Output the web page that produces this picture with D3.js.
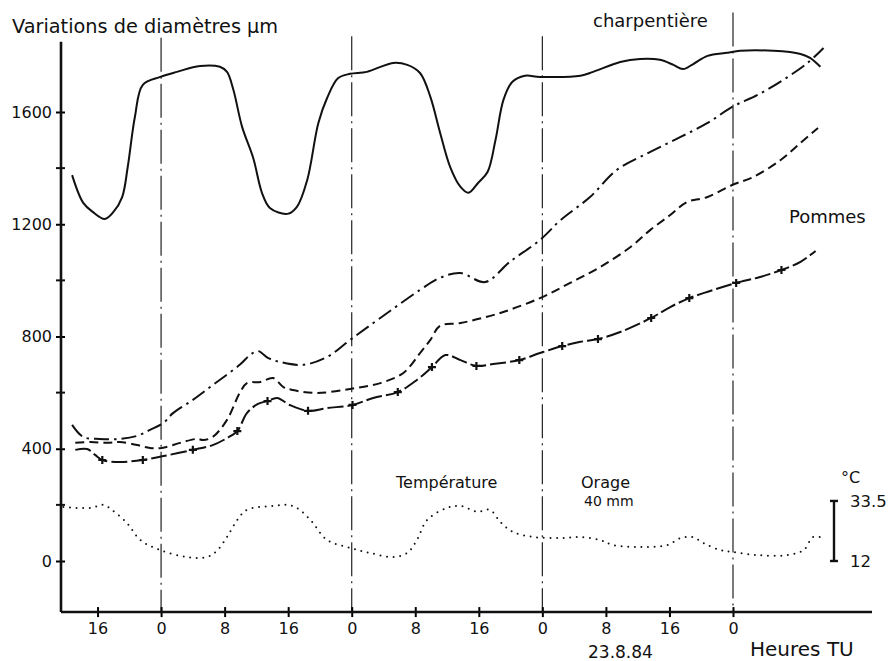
<!DOCTYPE html>
<html>
<head>
<meta charset="utf-8">
<script src="https://cdn.jsdelivr.net/npm/d3@7"></script>
<style>
  body { margin: 0; background: #fff; }
  svg { display: block; font-family: "DejaVu Sans", sans-serif; }
  .curve { fill: none; stroke: #111; stroke-width: 2; stroke-linejoin: round; }
</style>
</head>
<body>
<script>
"use strict";

// hours counted from the first midnight, diameter variations in µm
var charpentiere = [[-11.2,1375],[-9.8,1276],[-8.6,1244],[-7.1,1219],[-6.0,1244],[-4.9,1297],[-4.2,1404],
  [-3.3,1582],[-2.3,1697],[-0.1,1725],[2.0,1743],[4.9,1764],[7.4,1761],[8.3,1743],[9.1,1679],[10.2,1547],
  [11.6,1436],[12.7,1312],[13.7,1258],[15.9,1237],[17.1,1262],[18.4,1358],[19.8,1561],[20.9,1650],[22.3,1721],
  [23.8,1736],[25.9,1743],[29.2,1775],[31.0,1768],[32.6,1739],[33.9,1654],[35.1,1529],[36.4,1404],[37.7,1333],
  [38.7,1312],[39.9,1347],[41.1,1386],[42.1,1500],[43.1,1643],[44.2,1707],[45.8,1729],[47.7,1725],[52.8,1729],
  [54.4,1743],[57.8,1778],[60.3,1789],[62.8,1786],[64.5,1768],[65.7,1753],[67.0,1771],[68.8,1800],[71.3,1811],
  [72.9,1818],[77.1,1818],[80.5,1807],[81.7,1793],[83.0,1761]];

var pommesA = [[-11.2,485],[-9.8,442],[-7.7,435],[-5.2,435],[-3.0,446],[-1.4,467],[0.3,492],[1.5,527],
  [4.0,574],[6.5,627],[9.9,699],[11.2,734],[12.2,748],[13.5,723],[15.0,709],[17.9,699],[20.9,727],[23.8,788],
  [27.6,866],[32.6,966],[35.1,1009],[37.7,1026],[40.8,994],[43.9,1066],[47.7,1144],[50.3,1215],[54.0,1297],
  [57.4,1394],[61.6,1458],[65.4,1511],[68.8,1561],[71.9,1618],[75.1,1661],[78.3,1714],[81.4,1775],[83.4,1828]];

var pommesB = [[-10.8,421],[-8.9,424],[-6.8,421],[-5.2,424],[-3.0,413],[-1.4,403],[0.1,403],[2.4,421],
  [4.5,435],[5.3,431],[6.5,442],[8.3,503],[9.9,599],[10.8,634],[12.5,638],[14.1,652],[15.4,620],[16.6,609],
  [19.6,599],[23.8,613],[27.6,634],[30.5,670],[32.6,741],[33.9,788],[35.1,838],[37.7,848],[42.7,884],
  [47.7,937],[51.5,991],[55.3,1048],[59.1,1119],[61.6,1180],[64.1,1233],[66.2,1279],[68.8,1297],[71.9,1340],
  [74.6,1369],[78.0,1429],[80.5,1490],[82.7,1543]];

// third value = 1 where a cross is drawn
var pommesC = [[-10.8,396,0],[-9.3,399,0],[-8.3,378,0],[-7.4,360,1],[-5.2,353,0],[-2.3,360,1],[0.3,374,0],
  [4.0,396,1],[6.5,413,0],[8.3,438,0],[9.6,463,1],[10.8,527,0],[12.2,560,0],[13.4,570,1],[14.6,581,0],
  [16.2,556,0],[18.5,535,1],[20.9,545,0],[24.1,556,1],[26.7,581,0],[29.8,602,1],[32.2,645,0],[34.1,691,1],
  [35.8,734,0],[37.7,716,0],[39.7,695,1],[41.8,702,0],[45.1,716,1],[47.7,741,0],[50.5,766,1],[52.8,781,0],
  [55.0,791,1],[57.8,816,0],[61.7,866,1],[64.1,905,0],[66.5,937,1],[69.1,962,0],[72.4,991,1],[75.4,1012,0],
  [78.1,1037,1],[80.5,1066,0],[82.4,1105,0]];

// air temperature, °C
var temperature = [[-12.3,31.3],[-8.9,31.0],[-7.3,32.1],[-6.2,30.3],[-4.3,25.6],[-2.6,19.5],[-0.1,15.9],
  [3.3,13.4],[5.8,13.4],[7.1,15.9],[8.3,20.6],[9.6,26.7],[10.8,30.3],[14.1,31.7],[15.9,32.1],[17.1,31.0],
  [18.8,26.7],[20.9,19.5],[23.8,16.7],[26.3,14.9],[29.2,13.4],[31.0,14.9],[32.2,19.5],[33.5,26.7],[36.0,31.0],
  [37.7,31.7],[39.8,29.6],[41.4,30.3],[42.7,26.0],[44.3,22.4],[46.9,20.6],[50.3,20.2],[52.8,20.6],[55.3,19.5],
  [56.9,17.7],[60.3,17.0],[63.7,17.7],[65.4,20.2],[66.9,20.6],[68.3,18.4],[70.4,15.9],[72.0,15.2],[75.1,14.1],
  [78.8,14.1],[80.9,15.9],[82.1,20.6],[83.4,20.2]];

var yTicks = [0, 400, 800, 1200, 1600];
var yMinorTicks = [200, 600, 1000, 1400];
var xTicks = [-8, 0, 8, 16, 24, 32, 40, 48, 56, 64, 72];
var midnights = [0, 24, 48, 72];
var midnightTops = [1865, 1870, 1870, 1955];
var tempRange = [12, 33.5];

var width = 889, height = 661;

var x = d3.scaleLinear().domain([-12.6, 89.5]).range([61, 872]);
var y = d3.scaleLinear().domain([0, 1600]).range([561, 112]);
var yTemp = d3.scaleLinear().domain(tempRange).range([y(0), y(214)]);
var yBottom = -182, yTop = 1850;

var svg = d3.select("body").append("svg")
    .attr("width", width)
    .attr("height", height);

// midnight dash-dot lines
svg.append("g").selectAll("line")
    .data(midnights)
    .enter().append("line")
    .attr("x1", d => x(d)).attr("x2", d => x(d))
    .attr("y1", (d, i) => y(midnightTops[i]))
    .attr("y2", y(yBottom))
    .attr("stroke", "#222")
    .attr("stroke-width", 1.2)
    .attr("stroke-dasharray", "34 5 2 5");

// y axis
var yAxis = svg.append("g")
    .attr("transform", "translate(" + x.range()[0] + ",0)")
    .call(d3.axisLeft(y).tickValues(yTicks).tickFormat(d3.format("d"))
        .tickSizeOuter(0).tickSize(5).tickPadding(4));
yAxis.select(".domain").remove();
yAxis.selectAll(".tick line").attr("x2", 4).attr("x1", -5).attr("stroke-width", 2);
yAxis.selectAll(".tick text").attr("font-size", 16).attr("font-family", "DejaVu Sans").attr("fill", "#111");
yAxis.selectAll(".minor").data(yMinorTicks).enter().append("line")
    .attr("x1", -5).attr("x2", 4)
    .attr("y1", d => y(d)).attr("y2", d => y(d))
    .attr("stroke", "#111").attr("stroke-width", 2);
yAxis.append("line")
    .attr("x1", 0).attr("x2", 0)
    .attr("y1", y(yBottom)).attr("y2", y(yTop))
    .attr("stroke", "#111").attr("stroke-width", 2.6);

// x axis
var xAxis = svg.append("g")
    .attr("transform", "translate(0," + y(yBottom) + ")")
    .call(d3.axisBottom(x).tickValues(xTicks).tickSizeOuter(0).tickSize(5).tickPadding(6)
        .tickFormat(d => ((d % 24) + 24) % 24));
xAxis.select(".domain").remove();
xAxis.selectAll(".tick line").attr("y1", -5).attr("y2", 5).attr("stroke-width", 2);
xAxis.selectAll(".tick text").attr("font-size", 16).attr("font-family", "DejaVu Sans").attr("fill", "#111");
xAxis.append("line")
    .attr("x1", x.range()[0]).attr("x2", x.range()[1])
    .attr("y1", 0).attr("y2", 0)
    .attr("stroke", "#111").attr("stroke-width", 2.6);

// curves
var line = d3.line()
    .x(d => x(d[0]))
    .y(d => y(d[1]))
    .curve(d3.curveCatmullRom.alpha(0.5));

svg.append("path").datum(charpentiere).attr("class", "curve").attr("d", line);
svg.append("path").datum(pommesA).attr("class", "curve").attr("d", line)
    .attr("stroke-dasharray", "15 5 2.5 5");
svg.append("path").datum(pommesB).attr("class", "curve").attr("d", line)
    .attr("stroke-dasharray", "9 5");
svg.append("path").datum(pommesC).attr("class", "curve").attr("d", line)
    .attr("stroke-dasharray", "16 4");

// crosses on the third apple curve
svg.append("g").selectAll("path")
    .data(pommesC.filter(d => d[2]))
    .enter().append("path")
    .attr("transform", d => "translate(" + x(d[0]) + "," + y(d[1]) + ")")
    .attr("d", "M-4,0H4M0,-4V4")
    .attr("stroke", "#111")
    .attr("stroke-width", 2.2);

// temperature dotted
var tLine = d3.line()
    .x(d => x(d[0]))
    .y(d => yTemp(d[1]))
    .curve(d3.curveCatmullRom.alpha(0.5));
svg.append("path").datum(temperature).attr("class", "curve").attr("d", tLine)
    .attr("stroke-width", 2.4)
    .attr("stroke-linecap", "round")
    .attr("stroke-dasharray", "0 6.6");

// temperature scale bar
var bar = svg.append("g").attr("stroke", "#111").attr("stroke-width", 2.4);
var barX = 834;
bar.append("line").attr("x1", barX).attr("x2", barX).attr("y1", yTemp(tempRange[1])).attr("y2", yTemp(tempRange[0]));
bar.selectAll(".serif").data(tempRange).enter().append("line")
    .attr("x1", barX - 4).attr("x2", barX + 4)
    .attr("y1", d => yTemp(d)).attr("y2", d => yTemp(d));
svg.selectAll(".tlabel").data(tempRange).enter().append("text")
    .attr("x", 850)
    .attr("y", d => yTemp(d) + 6)
    .attr("font-size", 16.5)
    .attr("fill", "#111")
    .text(d => d);
svg.append("text").attr("x", 841).attr("y", 483).attr("font-size", 16).attr("fill", "#111").text("°C");

// labels
function label(txt, lx, ly, size) {
    svg.append("text").attr("x", lx).attr("y", ly).attr("font-size", size).attr("fill", "#111").text(txt);
}
label("Variations de diamètres µm", 12, 33, 19.3);
label("charpentière", 593, 27, 18);
label("Pommes", 789, 223, 18);
label("Température", 396, 488, 16);
label("Orage", 581, 488, 16);
label("40 mm", 584, 506, 14);
label("Heures TU", 750, 656, 20);
label("23.8.84", 588, 658, 17);
</script>
</body>
</html>
